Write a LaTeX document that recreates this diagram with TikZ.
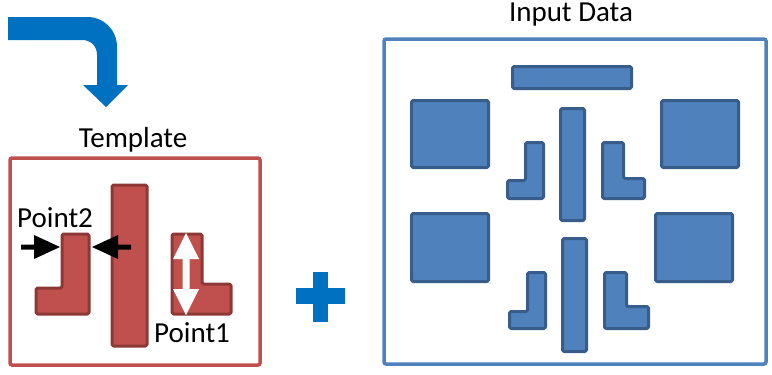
\documentclass[tikz,border=0pt]{standalone}
\usepackage{fontspec}
\setmainfont{Carlito}
\definecolor{tplred}{HTML}{C0504D}
\definecolor{tplredd}{HTML}{8C3836}
\definecolor{datblue}{HTML}{4F81BD}
\definecolor{datblued}{HTML}{385D8A}
\definecolor{flowblue}{HTML}{0070C0}
\begin{document}
\begin{tikzpicture}[x=1pt,y=-1pt,
  lbl/.style={inner sep=0pt,font=\fontsize{29}{34}\selectfont},
  redpart/.style={fill=tplred,draw=tplredd,line width=3pt,line join=round,rounded corners=1.5pt},
  bluepart/.style={fill=datblue,draw=datblued,line width=3pt,line join=round,rounded corners=1.5pt},
  frame/.style={line width=3.5pt,rounded corners=2pt},
  flow/.style={fill=flowblue,draw=none}]
\useasboundingbox (0,0) rectangle (772,375);

% curved flow arrow
\path[flow] (8,17) -- (87,17) .. controls (104,17) and (117,30) .. (117,47)
  -- (117,85) -- (128,85) -- (106,107) -- (83,85) -- (97,85) -- (97,55)
  .. controls (97,46) and (91,40) .. (82,40) -- (8,40) -- cycle;

% template
\node[lbl,anchor=base] (tpl) at (133,147) {Template};
\draw[frame,draw=tplred] (10,158) rectangle (260,365);
\draw[redpart] (62,234) -- (89,234) -- (89,314) -- (36,314) -- (36,288) -- (62,288) -- cycle;
\draw[redpart] (112,185) rectangle (147,346);
\draw[redpart] (172,234) -- (202,234) -- (202,284) -- (231,284) -- (231,314) -- (172,314) -- cycle;

% gap markers (black)
\fill[black] (21,244.5) -- (34,244.5) -- (34,235) -- (60,247) -- (34,259) -- (34,249.5) -- (21,249.5) -- cycle;
\fill[black] (131,244.5) -- (118,244.5) -- (118,235) -- (92,247) -- (118,259) -- (118,249.5) -- (131,249.5) -- cycle;
% height marker (white)
\fill[white] (186,233) -- (199,259) -- (189.5,259) -- (189.5,289) -- (199,289) -- (186,315)
  -- (173,289) -- (182.5,289) -- (182.5,259) -- (173,259) -- cycle;

\node[lbl,anchor=base west] (p2) at (17,227) {Point2};
\node[lbl,anchor=base west] (p1) at (154,342) {Point1};

% plus sign
\fill[flowblue] (313,272) rectangle (328,322);
\fill[flowblue] (296,288) rectangle (345,304);

% input data
\node[lbl,anchor=base] (inp) at (571,21) {Input Data};
\draw[frame,draw=datblue] (384,39) rectangle (766,364);
\draw[bluepart] (512.5,66.5) rectangle (631.5,88.5);
\draw[bluepart] (411.5,100.5) rectangle (488.5,167.5);
\draw[bluepart] (661.5,100.5) rectangle (738.5,167.5);
\draw[bluepart] (411.5,213.5) rectangle (488.5,281.5);
\draw[bluepart] (655.5,213.5) rectangle (732.5,281.5);
\draw[bluepart] (560.5,108.5) rectangle (584.5,220.5);
\draw[bluepart] (562.5,238.5) rectangle (586.5,351.5);
\draw[bluepart] (525.5,142.5) -- (543.5,142.5) -- (543.5,198.5) -- (507.5,198.5) -- (507.5,180.5) -- (525.5,180.5) -- cycle;
\draw[bluepart] (602.5,142.5) -- (623.5,142.5) -- (623.5,178.5) -- (644.5,178.5) -- (644.5,198.5) -- (602.5,198.5) -- cycle;
\draw[bluepart] (527.5,272.5) -- (545.5,272.5) -- (545.5,328.5) -- (509.5,328.5) -- (509.5,311.5) -- (527.5,311.5) -- cycle;
\draw[bluepart] (604.5,272.5) -- (626.5,272.5) -- (626.5,306.5) -- (648.5,306.5) -- (648.5,328.5) -- (604.5,328.5) -- cycle;
\end{tikzpicture}
\end{document}
